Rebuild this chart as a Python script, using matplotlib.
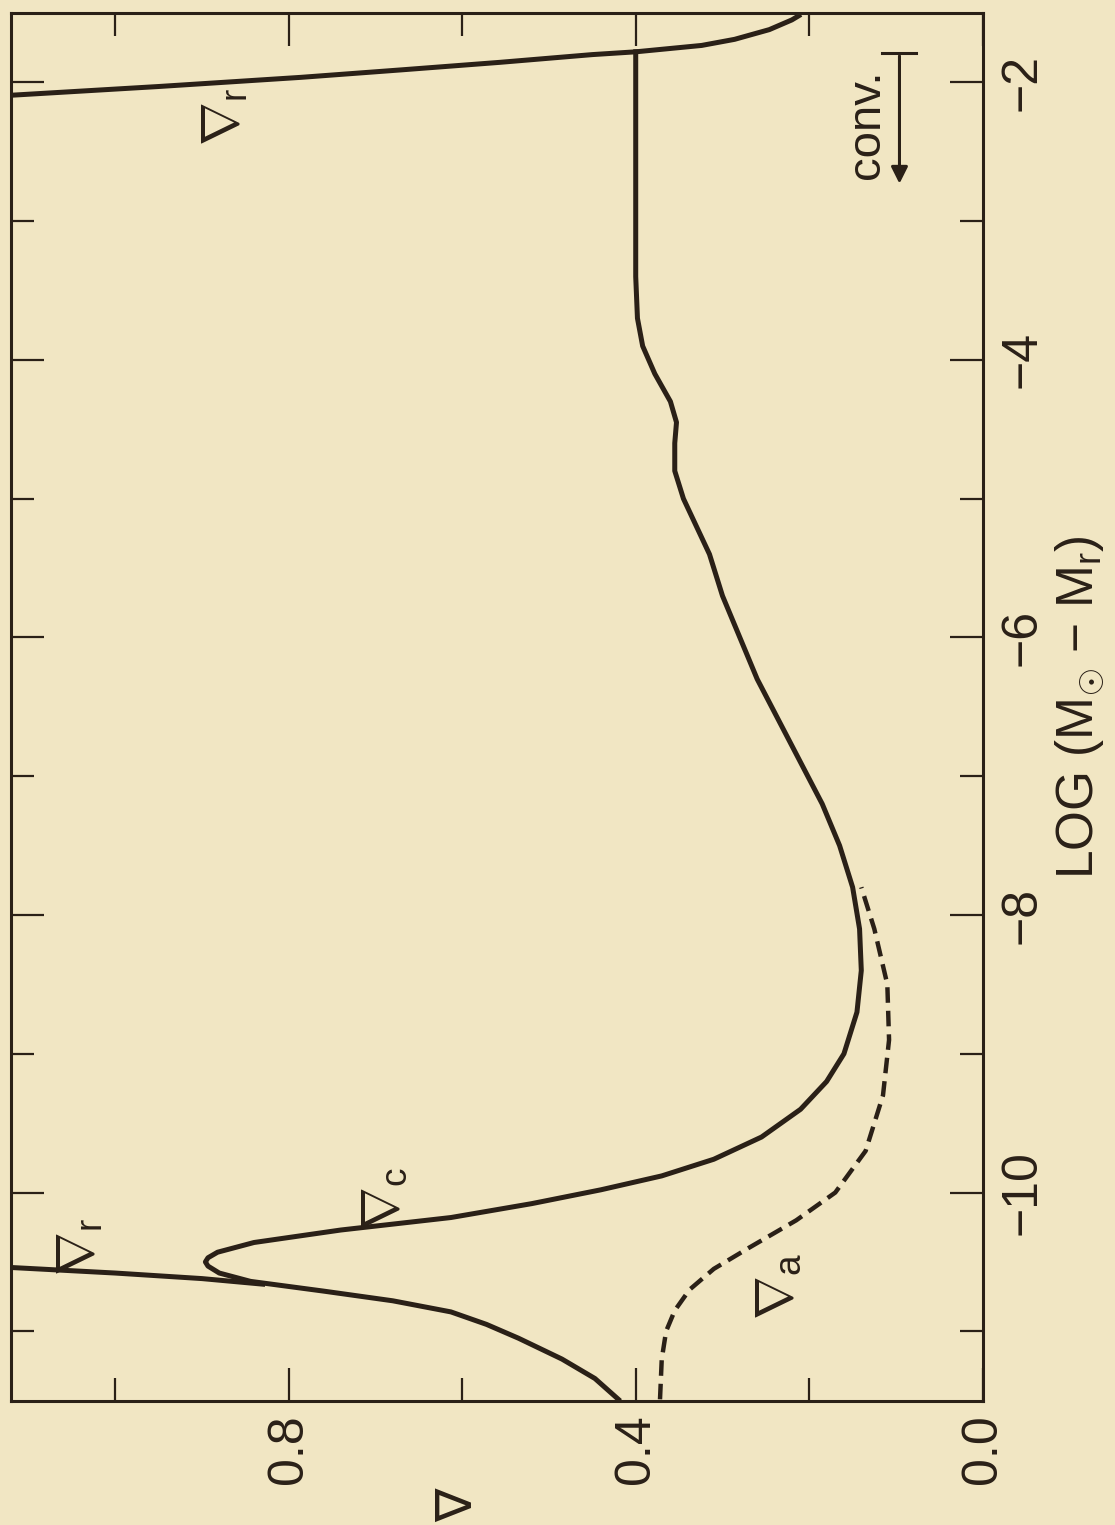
import matplotlib
matplotlib.use('Agg')
import matplotlib.pyplot as plt
from matplotlib.ticker import FixedLocator, FixedFormatter, NullFormatter

plt.rcParams['font.family'] = ['Liberation Sans', 'DejaVu Sans']
plt.rcParams['mathtext.fontset'] = 'custom'
plt.rcParams['mathtext.rm'] = 'Liberation Sans'
plt.rcParams['mathtext.it'] = 'Liberation Sans'

bg = '#f1e6c3'
ink = '#2a2017'

# actual gradient (solid), log(M_sun - M_r) vs nabla
grad_logm = [-11.49, -11.34, -11.2, -11.05, -10.95, -10.86, -10.78, -10.71, -10.64,
             -10.58, -10.53, -10.50, -10.47, -10.43, -10.36, -10.27, -10.18, -10.08,
             -9.98, -9.88, -9.76, -9.6, -9.4, -9.2, -9.0, -8.7, -8.4, -8.1, -7.8,
             -7.5, -7.2, -6.9, -6.6, -6.3, -6.0, -5.7, -5.4, -5.2, -5.0, -4.8,
             -4.6, -4.45, -4.3, -4.1, -3.9, -3.7, -3.4, -3.0, -2.5, -2.0, -1.78]
grad_val = [0.42, 0.447, 0.485, 0.535, 0.572, 0.613, 0.68, 0.76, 0.844,
            0.88, 0.893, 0.896, 0.893, 0.882, 0.84, 0.74, 0.613, 0.52,
            0.44, 0.37, 0.31, 0.255, 0.21, 0.18, 0.16, 0.145, 0.14, 0.142, 0.15,
            0.165, 0.185, 0.21, 0.235, 0.26, 0.28, 0.30, 0.315, 0.33, 0.345, 0.355,
            0.355, 0.353, 0.36, 0.378, 0.392, 0.398, 0.40, 0.40, 0.40, 0.40, 0.40]

# adiabatic gradient (dashed)
ad_logm = [-11.49, -11.2, -11.0, -10.85, -10.7, -10.55, -10.4, -10.2, -10.0,
           -9.7, -9.3, -8.9, -8.5, -8.1, -7.8]
ad_val = [0.372, 0.370, 0.365, 0.355, 0.338, 0.31, 0.27, 0.215, 0.17,
          0.135, 0.115, 0.108, 0.11, 0.125, 0.14]

# radiative gradient near the surface and at the bottom of the convection zone
rad_out_logm = [-10.54, -10.58, -10.62, -10.66]
rad_out_val = [1.12, 1.00, 0.90, 0.83]
rad_in_logm = [-2.093, -2.03, -1.964, -1.91, -1.856, -1.80, -1.78, -1.734, -1.69,
               -1.62, -1.55, -1.52]
rad_in_val = [1.12, 0.95, 0.786, 0.67, 0.557, 0.45, 0.40, 0.324, 0.286,
              0.246, 0.22, 0.212]

fig = plt.figure(figsize=(11.15, 15.25), dpi=100, facecolor=bg)
ax = fig.add_axes([0.0099, 0.0815, 0.8715, 0.910], facecolor=bg)

ax.plot(grad_val, grad_logm, color=ink, lw=3.6, solid_joinstyle='round')
ax.plot(ad_val, ad_logm, color=ink, lw=3.2, ls=(0, (3.5, 1.8)))
ax.plot(rad_out_val, rad_out_logm, color=ink, lw=3.6)
ax.plot(rad_in_val, rad_in_logm, color=ink, lw=3.6, solid_joinstyle='round')

ax.set_xlim(1.12, 0.0)
ax.set_ylim(-11.5, -1.5)

for s in ax.spines.values():
    s.set_linewidth(2.2)
    s.set_color(ink)

ax.xaxis.set_major_locator(FixedLocator([0.0, 0.4, 0.8]))
ax.xaxis.set_major_formatter(FixedFormatter(['0.0', '0.4', '0.8']))
ax.xaxis.set_minor_locator(FixedLocator([0.2, 0.6, 1.0]))
ax.yaxis.set_major_locator(FixedLocator([-10, -8, -6, -4, -2]))
ax.yaxis.set_major_formatter(FixedFormatter(['\u221210', '\u22128', '\u22126', '\u22124', '\u22122']))
ax.yaxis.set_minor_locator(FixedLocator([-11, -9, -7, -5, -3]))
ax.yaxis.set_minor_formatter(NullFormatter())

ax.tick_params(which='both', direction='in', top=True, bottom=True, left=True, right=True,
               color=ink, width=1.6)
ax.tick_params(which='major', length=24)
ax.tick_params(which='minor', length=16.5)
ax.tick_params(axis='x', labelsize=36, labelcolor=ink, labelrotation=90, pad=10)
ax.tick_params(axis='y', labelsize=36, labelcolor=ink, labelrotation=90,
               labelleft=False, labelright=True, pad=12)
for t in ax.get_yticklabels():
    t.set_va('center')

fig.text(1080 / 1115, 1 - 707 / 1525, r'LOG (M$_{\odot}$ $-$ M$_{\mathrm{r}}$)', rotation=90,
         ha='center', va='center', fontsize=37, color=ink)
fig.text(457 / 1115, 1 - 1505 / 1525, '\u2207', rotation=90, ha='center', va='center',
         fontsize=36, color=ink, family=['DejaVu Sans'])

# curve labels
lab = dict(rotation=90, ha='center', va='center', fontsize=38, color=ink)
ax.text(0.873, -2.25, r'$\nabla_{\mathrm{r}}$', **lab)
ax.text(1.04, -10.39, r'$\nabla_{\mathrm{r}}$', **lab)
ax.text(0.69, -10.05, r'$\nabla_{\mathrm{c}}$', **lab)
ax.text(0.235, -10.68, r'$\nabla_{\mathrm{a}}$', **lab)

# convection zone marker
ax.text(0.133, -2.30, 'conv.', **dict(lab, fontsize=34))
ax.annotate('', xy=(0.096, -2.75), xytext=(0.096, -1.79),
            arrowprops=dict(arrowstyle='-|>', color=ink, lw=2.2, mutation_scale=25))
ax.plot([0.116, 0.077], [-1.79, -1.79], color=ink, lw=2.2)

fig.savefig('out.png', dpi=100, facecolor=bg)
